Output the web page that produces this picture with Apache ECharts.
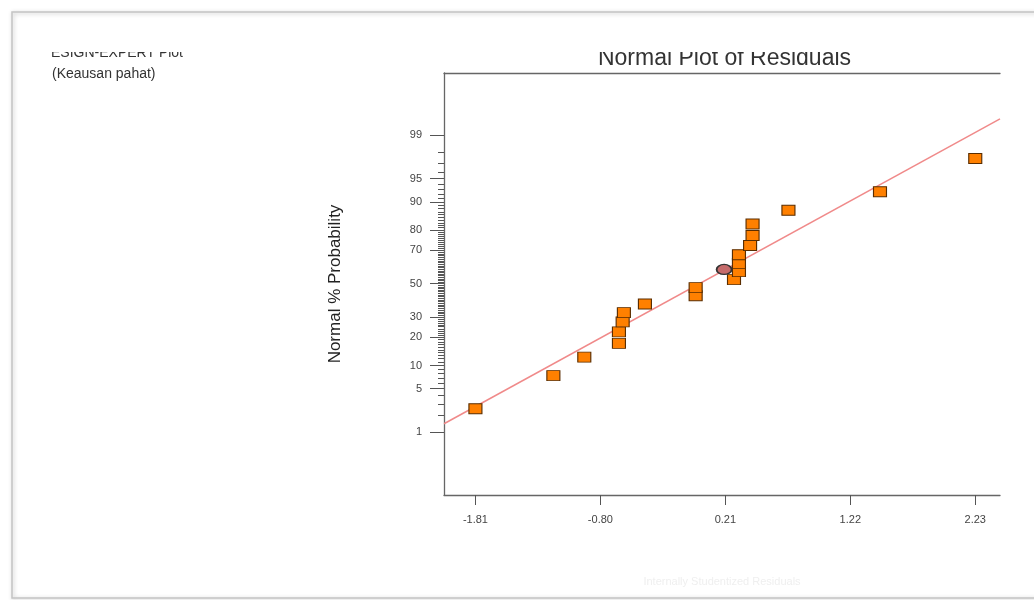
<!DOCTYPE html>
<html>
<head>
<meta charset="utf-8">
<script src="https://cdn.jsdelivr.net/npm/echarts@6/dist/echarts.min.js"></script>
<style>
html,body{margin:0;padding:0;background:#fff;}
#chart{width:1034px;height:600px;}
</style>
</head>
<body>
<div id="chart"></div>
<script>
// ---- data ----
const residuals = [-1.81, -1.18, -0.93, -0.65, -0.65, -0.62, -0.61, -0.44, -0.03, -0.03,
                   0.28, 0.32, 0.32, 0.32, 0.41, 0.43, 0.43, 0.72, 1.46, 2.23];
const probabilities = [2.5, 7.5, 12.5, 17.5, 22.5, 27.5, 32.5, 37.5, 42.5, 47.5,
                       52.5, 57.5, 62.5, 67.5, 72.5, 77.5, 82.5, 87.5, 92.5, 97.5];
const highlightResidual = [0.20];
const highlightProbability = [58.8];
const fitLineResidual = [-2.064, 2.43];
const fitLineProbability = [1.41, 99.51];
const xTickLabels = [-1.81, -0.80, 0.21, 1.22, 2.23];
const yTickLabels = [1, 5, 10, 20, 30, 50, 70, 80, 90, 95, 99];
const yMinorTicks = [];
for (let p = 1; p <= 99; p++) yMinorTicks.push(p);

// inverse standard normal CDF (Acklam) used for the probability scale
function normInv(p) {
  const a = [-3.969683028665376e+01, 2.209460984245205e+02, -2.759285104469687e+02,
             1.383577518672690e+02, -3.066479806614716e+01, 2.506628277459239e+00];
  const b = [-5.447609879822406e+01, 1.615858368580409e+02, -1.556989798598866e+02,
             6.680131188771972e+01, -1.328068155288572e+01];
  const c = [-7.784894002430293e-03, -3.223964580411365e-01, -2.400758277161838e+00,
             -2.549671010229297e+00, 4.374664141464968e+00, 2.938163982698783e+00];
  const d = [7.784695709041462e-03, 3.224671290700398e-01, 2.445134137142996e+00,
             3.754408661907416e+00];
  const pl = 0.02425, ph = 1 - pl;
  let q, r;
  if (p < pl) {
    q = Math.sqrt(-2 * Math.log(p));
    return (((((c[0]*q+c[1])*q+c[2])*q+c[3])*q+c[4])*q+c[5]) /
           ((((d[0]*q+d[1])*q+d[2])*q+d[3])*q+1);
  } else if (p <= ph) {
    q = p - 0.5; r = q * q;
    return (((((a[0]*r+a[1])*r+a[2])*r+a[3])*r+a[4])*r+a[5])*q /
           (((((b[0]*r+b[1])*r+b[2])*r+b[3])*r+b[4])*r+1);
  } else {
    q = Math.sqrt(-2 * Math.log(1 - p));
    return -(((((c[0]*q+c[1])*q+c[2])*q+c[3])*q+c[4])*q+c[5]) /
            ((((d[0]*q+d[1])*q+d[2])*q+d[3])*q+1);
  }
}
const z = p => normInv(p / 100);

const FONT = "'Liberation Sans', Arial, sans-serif";
const X_MIN = -2.064, X_MAX = 2.43;
const Y_MIN = -3.31, Y_MAX = 3.30;

const majorZ = yTickLabels.map(z);
const minorZ = yMinorTicks.map(z);

const pointData = residuals.map((r, i) => [r, z(probabilities[i])]);
const highlightData = highlightResidual.map((r, i) => [r, z(highlightProbability[i])]);
const lineData = fitLineResidual.map((r, i) => [r, z(fitLineProbability[i])]);

const chart = echarts.init(document.getElementById('chart'), null, {renderer: 'canvas'});
chart.setOption({
  animation: false,
  backgroundColor: '#ffffff',
  textStyle: {fontFamily: FONT},
  grid: {left: 444, right: 34, top: 73, bottom: 105, containLabel: false},
  xAxis: [{
    type: 'value', min: X_MIN, max: X_MAX, position: 'bottom',
    axisLine: {show: true, onZero: false, lineStyle: {color: '#666', width: 1.3}},
    axisTick: {show: true, length: 10, inside: false, customValues: xTickLabels, lineStyle: {color: '#555'}},
    axisLabel: {show: true, customValues: xTickLabels, margin: 19, color: '#444', fontSize: 11, fontFamily: FONT,
      formatter: v => v.toFixed(2)},
    splitLine: {show: false},
    name: 'Internally Studentized Residuals', nameLocation: 'middle', nameGap: 81,
    nameTextStyle: {color: '#efefef', fontSize: 11, fontFamily: FONT}
  }, {
    type: 'value', min: X_MIN, max: X_MAX, position: 'top',
    axisLine: {show: true, onZero: false, lineStyle: {color: '#666', width: 1.3}},
    axisTick: {show: false}, axisLabel: {show: false}, splitLine: {show: false}
  }],
  yAxis: [{
    type: 'value', min: Y_MIN, max: Y_MAX, position: 'left',
    axisLine: {show: true, onZero: false, lineStyle: {color: '#666', width: 1.3}},
    axisTick: {show: true, length: 14, inside: false, customValues: majorZ, lineStyle: {color: '#555'}},
    axisLabel: {show: true, customValues: majorZ, margin: 22, color: '#444', fontSize: 11, fontFamily: FONT,
      formatter: v => {
        let best = 0, bd = Infinity;
        majorZ.forEach((m, i) => { const dd = Math.abs(m - v); if (dd < bd) { bd = dd; best = i; } });
        return String(yTickLabels[best]);
      }},
    splitLine: {show: false},
    name: 'Normal % Probability', nameLocation: 'middle', nameRotate: 90, nameGap: 100,
    nameTextStyle: {color: '#222', fontSize: 17, fontFamily: FONT}
  }, {
    type: 'value', min: Y_MIN, max: Y_MAX, position: 'left', offset: 0,
    axisLine: {show: false, onZero: false},
    axisTick: {show: true, length: 6, inside: false, customValues: minorZ, lineStyle: {color: '#555', width: 1}},
    axisLabel: {show: false}, splitLine: {show: false}
  }],
  series: [{
    type: 'line', data: lineData, showSymbol: false, silent: true, z: 1,
    lineStyle: {color: '#f08a8a', width: 1.5}
  }, {
    type: 'scatter', data: pointData, symbol: 'rect', symbolSize: [13, 10], z: 3,
    itemStyle: {color: '#ff8000', borderColor: '#5a2d00', borderWidth: 1, opacity: 1}
  }, {
    type: 'scatter', data: highlightData, symbol: 'circle', symbolSize: [15, 10], z: 4,
    itemStyle: {color: '#c56b6b', borderColor: '#333', borderWidth: 1.5, opacity: 1}
  }],
  graphic: [
    {type: 'text', x: 724.5, y: 58.5, z: 10,
      style: {text: 'Normal Plot of Residuals', font: '23px ' + FONT, fill: '#333',
        textAlign: 'center', textVerticalAlign: 'middle'}},
    {type: 'text', x: 183, y: 53, z: 10,
      style: {text: 'DESIGN-EXPERT Plot', font: '14px ' + FONT, fill: '#333',
        textAlign: 'right', textVerticalAlign: 'middle'}},
    {type: 'text', x: 52, y: 74, z: 10,
      style: {text: '(Keausan pahat)', font: '14px ' + FONT, fill: '#333',
        textAlign: 'left', textVerticalAlign: 'middle'}},
    // crop of the original screenshot
    {type: 'rect', z: 50, silent: true, shape: {x: 14, y: 14, width: 1020, height: 38},
      style: {fill: '#ffffff'}},
    {type: 'rect', z: 50, silent: true, shape: {x: 14, y: 40, width: 38, height: 24},
      style: {fill: '#ffffff'}},
    // frame of the pasted screenshot
    {type: 'rect', z: 60, silent: true, shape: {x: 12, y: 12, width: 1040, height: 586},
      style: {fill: 'none', stroke: '#c4c4c4', lineWidth: 1.5,
        shadowBlur: 4, shadowColor: 'rgba(0,0,0,0.25)', shadowOffsetX: 1, shadowOffsetY: 1}}
  ]
});
</script>
</body>
</html>
